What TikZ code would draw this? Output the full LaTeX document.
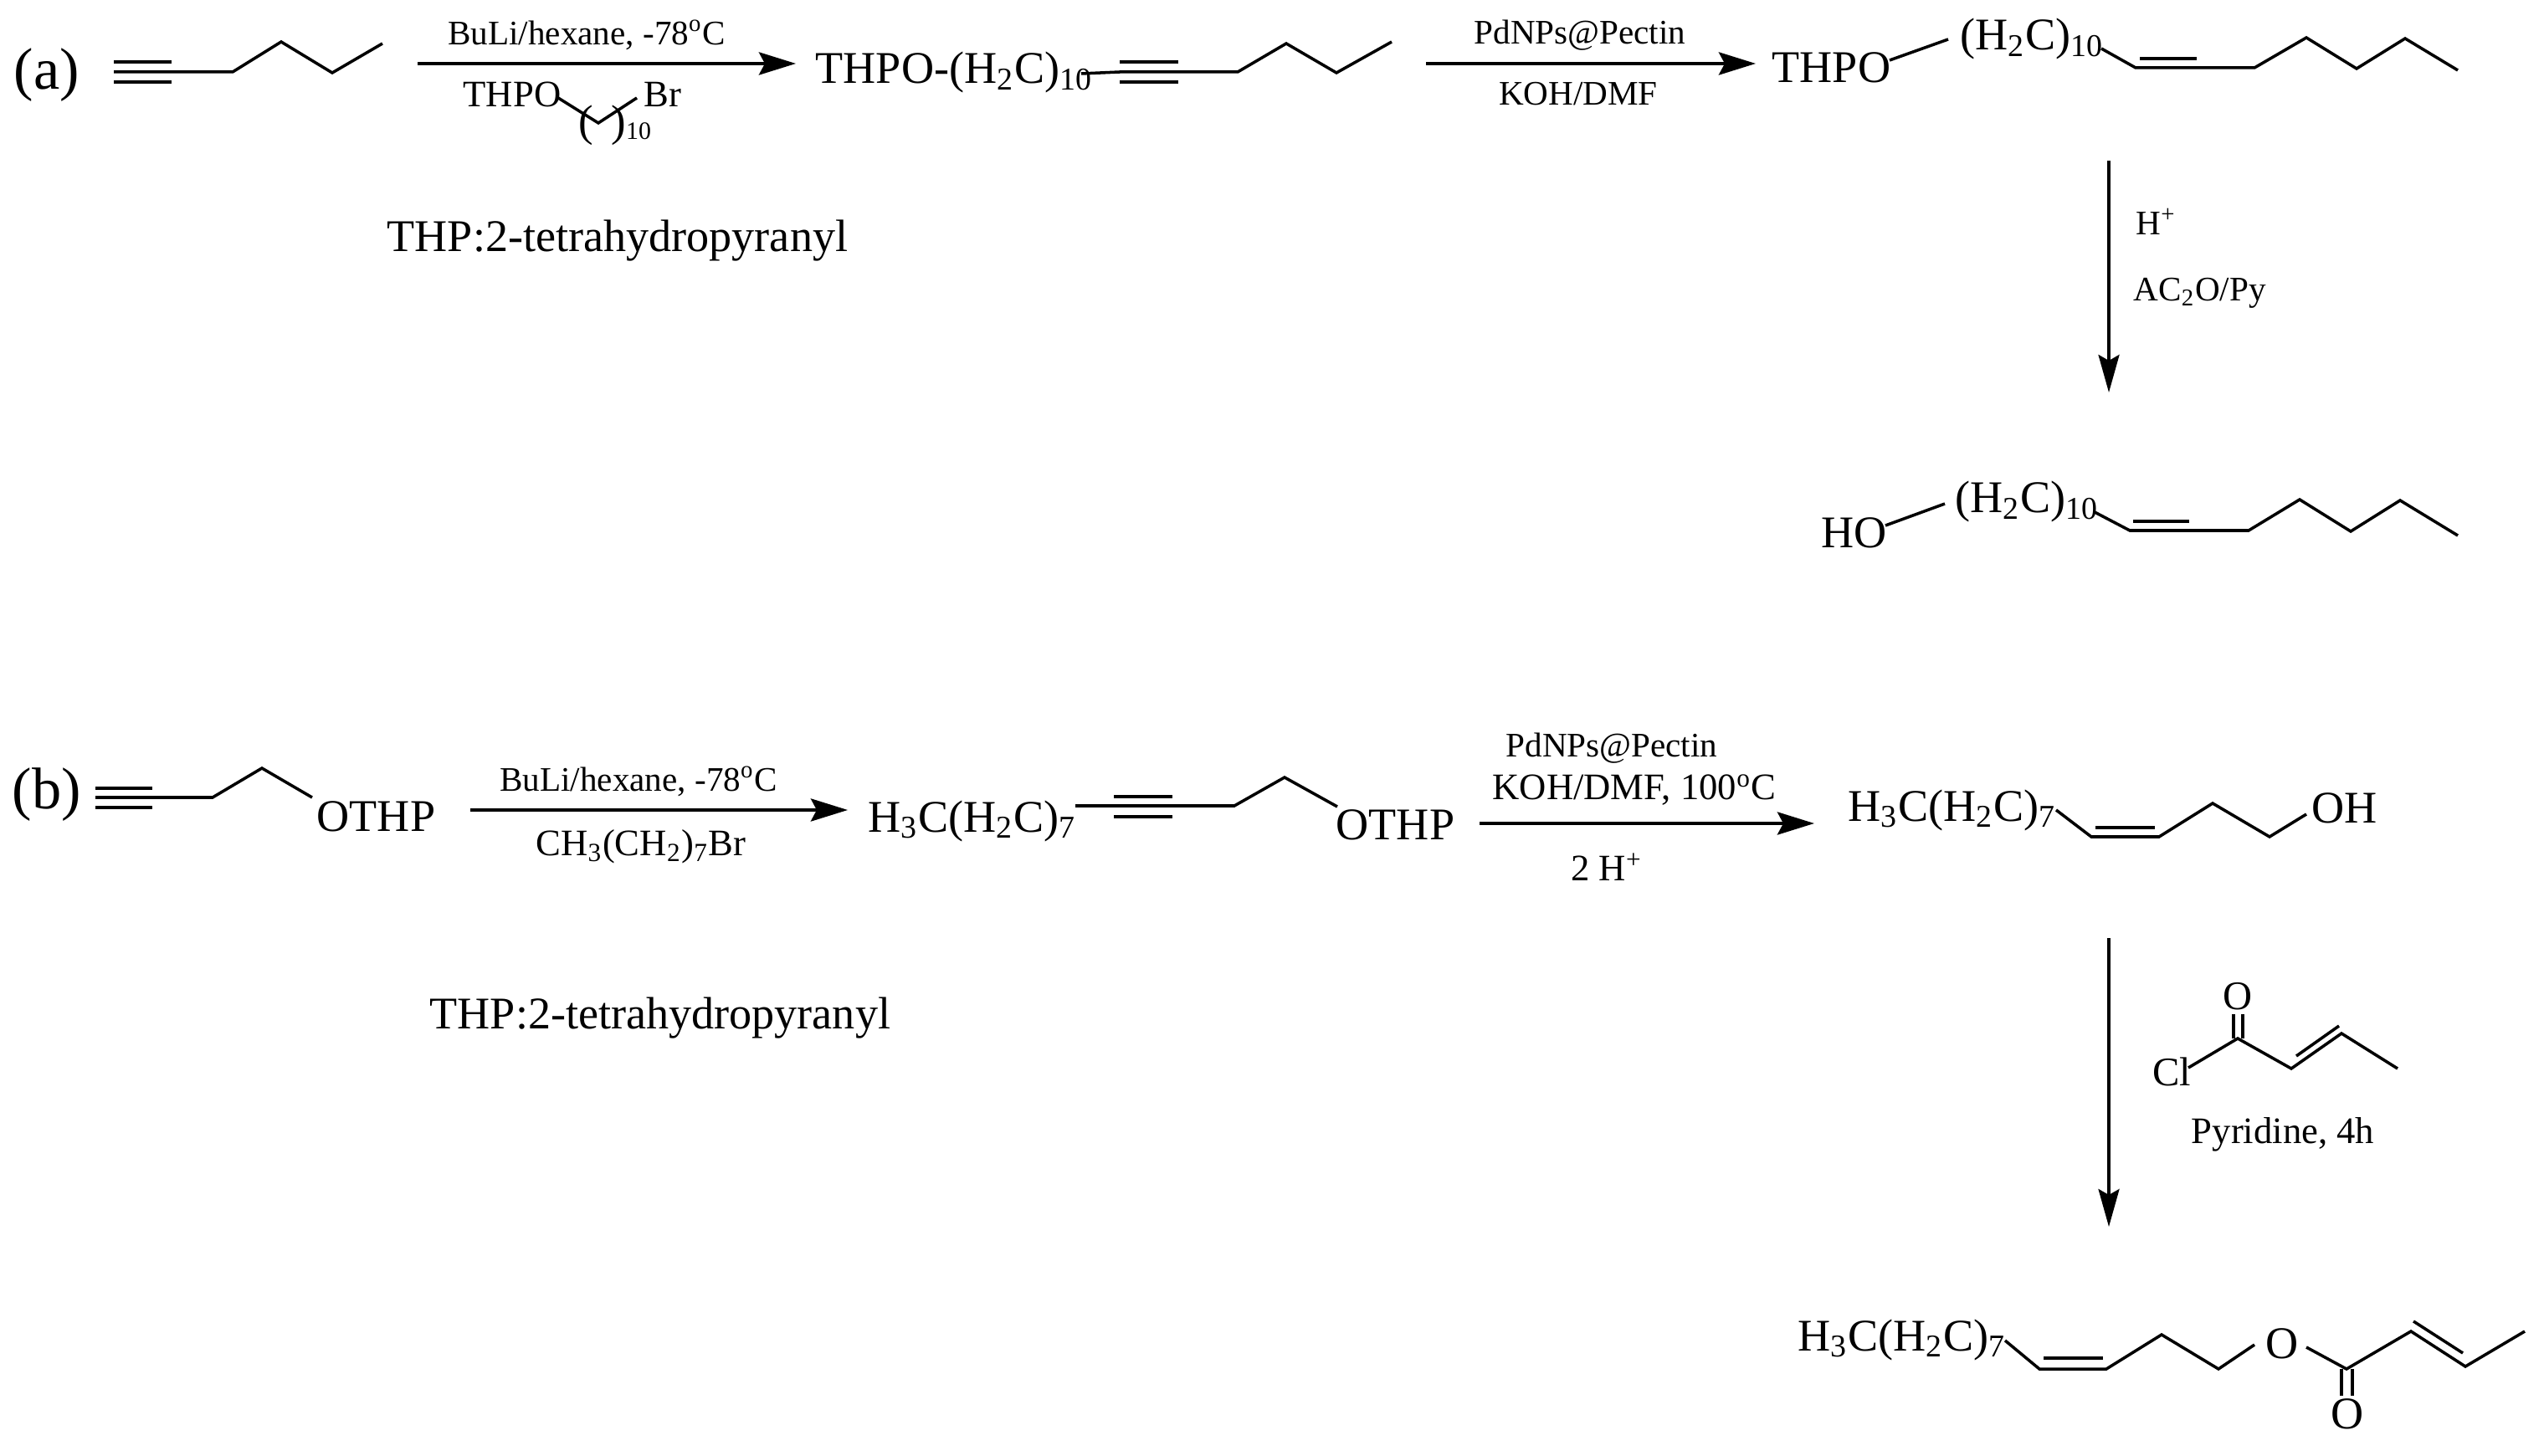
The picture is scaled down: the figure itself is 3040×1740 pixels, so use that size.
\documentclass[tikz,border=0pt]{standalone}
\usepackage{fontspec}
\setmainfont{Liberation Serif}
\usetikzlibrary{arrows.meta}
\tikzset{
    chem/.style={inner sep=0pt, anchor=base west, font=\fontsize{15.4}{18}\selectfont},
    reagent/.style={inner sep=0pt, font=\fontsize{11.7}{14}\selectfont},
    wide/.style={inner sep=0pt, font=\fontsize{12.7}{15}\selectfont},
    atom/.style={inner sep=0pt, font=\fontsize{15.4}{18}\selectfont},
    tag/.style={inner sep=0pt, font=\fontsize{20}{24}\selectfont},
    bond/.style={line width=1pt, line join=miter},
    rxn/.style={line width=1.25pt, -{Stealth[length=0.44cm, width=0.27cm, inset=0.07cm]}},
    rxndown/.style={line width=0.95pt, -{Stealth[length=0.45cm, width=0.25cm, inset=0.07cm]}}
}
\begin{document}
\begin{tikzpicture}[x=0.01cm, y=-0.01cm]
    \useasboundingbox (0,0) rectangle (3040,1740);
    % route a
    \node[tag] (taga) at (56,90) {(a)};
    \draw[bond] (136,74)--(205,74);
    \draw[bond] (136,98)--(205,98);
    \draw[bond] (136,86)--(278,86)--(336,50)--(397,87)--(457,52);
    \coordinate (a1s) at (499,76);
    \coordinate (a1e) at (951,76);
    \draw[rxn] (a1s)--(a1e);
    \node[reagent] (a1top) at (701,42) {BuLi/hexane, -78\textsuperscript{o}C};
    \node[wide, anchor=base west] (a1thpo) at (553,128) {THPO};
    \node[wide, anchor=base west] (a1br) at (769,128) {Br};
    \draw[bond] (667,117)--(715,147)--(761,117);
    \node[wide, font=\fontsize{15}{18}\selectfont] (a1pl) at (700,150) {(};
    \node[wide, font=\fontsize{15}{18}\selectfont] (a1pr) at (739,150) {)};
    \node[reagent, font=\fontsize{8.5}{10}\selectfont] (a1ten) at (763,157) {10};
    \node[chem] (a1note) at (462,301) {THP:2-tetrahydropyranyl};
    \node[chem] (a2name) at (974,100) {THPO-(H\textsubscript{2}C)\textsubscript{10}};
    \draw[bond] (1338,74)--(1408,74);
    \draw[bond] (1338,98)--(1408,98);
    \draw[bond] (1292,88)--(1338,86)--(1479,86)--(1537,52)--(1597,87)--(1663,50);
    \coordinate (a2s) at (1704,76);
    \coordinate (a2e) at (2098,76);
    \draw[rxn] (a2s)--(a2e);
    \node[reagent] (a2top) at (1888,42) {PdNPs@Pectin};
    \node[reagent] (a2bot) at (1886,112) {KOH/DMF};
    \node[chem] (a3thpo) at (2117,99) {THPO};
    \node[chem] (a3name) at (2342,60) {(H\textsubscript{2}C)\textsubscript{10}};
    \draw[bond] (2258,72)--(2328,47);
    \draw[bond] (2511,58)--(2552,81)--(2694,81)--(2756,45)--(2816,82)--(2874,46)--(2937,84);
    \draw[bond] (2557,70)--(2625,70);
    \coordinate (a3s) at (2520,192);
    \coordinate (a3e) at (2520,469);
    \draw[rxndown] (a3s)--(a3e);
    \node[reagent, anchor=west] (a3top) at (2552,265) {H\textsuperscript{+}};
    \node[reagent, anchor=west] (a3bot) at (2549,350) {AC\textsubscript{2}O/Py};
    \node[chem] (a4ho) at (2176,655) {HO};
    \node[chem] (a4name) at (2336,613) {(H\textsubscript{2}C)\textsubscript{10}};
    \draw[bond] (2253,628)--(2324,602);
    \draw[bond] (2503,612)--(2545,634)--(2687,634)--(2748,597)--(2809,635)--(2868,598)--(2937,640);
    \draw[bond] (2549,623)--(2616,623);
    % route b
    \node[tag] (tagb) at (56,950) {(b)};
    \draw[bond] (114,942)--(182,942);
    \draw[bond] (114,965)--(182,965);
    \draw[bond] (114,953)--(254,953)--(313,918)--(373,953);
    \node[chem] (b1othp) at (378,993) {OTHP};
    \coordinate (b1s) at (562,968);
    \coordinate (b1e) at (1013,968);
    \draw[rxn] (b1s)--(b1e);
    \node[reagent] (b1top) at (763,934) {BuLi/hexane, -78\textsuperscript{o}C};
    \node[wide] (b1bot) at (766,1012) {CH\textsubscript{3}(CH\textsubscript{2})\textsubscript{7}Br};
    \node[chem] (b1note) at (513,1229) {THP:2-tetrahydropyranyl};
    \node[chem] (b2name) at (1037,994) {H\textsubscript{3}C(H\textsubscript{2}C)\textsubscript{7}};
    \draw[bond] (1331,952)--(1401,952);
    \draw[bond] (1331,976)--(1401,976);
    \draw[bond] (1285,963)--(1475,963)--(1535,929)--(1598,964);
    \node[chem] (b2othp) at (1596,1003) {OTHP};
    \coordinate (b2s) at (1768,984);
    \coordinate (b2e) at (2168,984);
    \draw[rxn] (b2s)--(b2e);
    \node[reagent] (b2top) at (1926,894) {PdNPs@Pectin};
    \node[wide] (b2mid) at (1953,944) {KOH/DMF, 100\textsuperscript{o}C};
    \node[wide] (b2bot) at (1920,1036) {2 H\textsuperscript{+}};
    \node[chem] (b3name) at (2208,981) {H\textsubscript{3}C(H\textsubscript{2}C)\textsubscript{7}};
    \draw[bond] (2457,968)--(2499,1000)--(2580,1000)--(2644,960)--(2712,1000)--(2756,973);
    \draw[bond] (2504,989)--(2575,989);
    \node[chem] (b3oh) at (2762,983) {OH};
    \coordinate (b3s) at (2520,1121);
    \coordinate (b3e) at (2520,1466);
    \draw[rxndown] (b3s)--(b3e);
    \node[wide, font=\fontsize{13.8}{16}\selectfont] (b3cl) at (2595,1281) {Cl};
    \draw[bond] (2615,1276)--(2674,1241)--(2738,1277)--(2798,1235)--(2865,1277);
    \draw[bond] (2744,1262)--(2795,1226);
    \draw[bond] (2669,1241)--(2669,1212);
    \draw[bond] (2680,1241)--(2680,1212);
    \node[wide, font=\fontsize{13.8}{16}\selectfont] (b3o) at (2674,1191) {O};
    \node[wide] (b3py) at (2728,1356) {Pyridine, 4h};
    \node[chem] (b4name) at (2148,1614) {H\textsubscript{3}C(H\textsubscript{2}C)\textsubscript{7}};
    \draw[bond] (2396,1602)--(2437,1636)--(2517,1636)--(2583,1595)--(2651,1636)--(2694,1607);
    \draw[bond] (2442,1623)--(2513,1623);
    \node[atom] (b4o) at (2727,1606) {O};
    \draw[bond] (2756,1610)--(2804,1636)--(2881,1591)--(2946,1633)--(3017,1591);
    \draw[bond] (2884,1579)--(2943,1617);
    \draw[bond] (2798,1636)--(2798,1668);
    \draw[bond] (2811,1636)--(2811,1668);
    \node[atom] (b4co) at (2805,1690) {O};
\end{tikzpicture}
\end{document}
